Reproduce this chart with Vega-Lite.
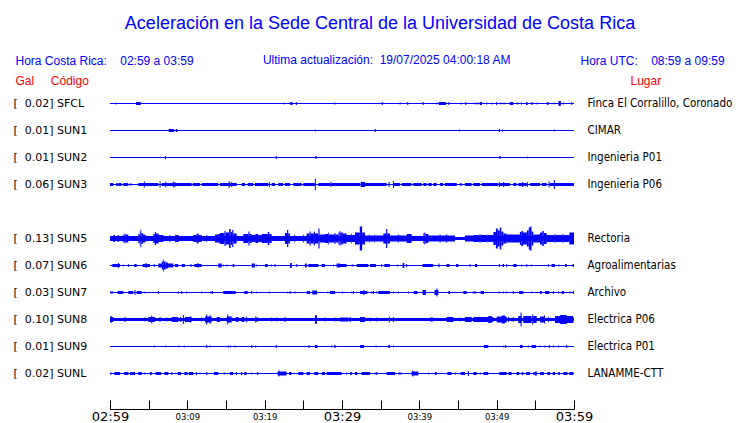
{
"$schema": "https://vega.github.io/schema/vega-lite/v6.json",
"width": 464, "height": 297,
"autosize": {"type": "none"},
"padding": {"left": 110, "top": 90, "right": 166, "bottom": 36},
"background": "white",
"title": {"text": "Aceleración en la Sede Central de la Universidad de Costa Rica", "subtitle": "\u200b\u00a0\u00a0\u00a0\u00a0Ultima actualización:\u00a0\u00a019/07/2025 04:00:18 AM", "anchor": "middle", "frame": "group", "dx": 38, "offset": -12, "font": "Liberation Sans", "fontSize": 18, "fontWeight": "normal", "color": "#0000ff", "subtitleFont": "Liberation Sans", "subtitleFontSize": 12, "subtitleColor": "#0000ff", "subtitlePadding": 22},
"datasets": {
"st": [
{"s":"SFCL","lab":"[\u00a0\u00a00.02]\u00a0SFCL","loc":"Finca El Corralillo, Coronado","n":1},
{"s":"SUN1","lab":"[\u00a0\u00a00.01]\u00a0SUN1","loc":"CIMAR","n":1},
{"s":"SUN2","lab":"[\u00a0\u00a00.01]\u00a0SUN2","loc":"Ingenieria P01","n":1},
{"s":"SUN3","lab":"[\u00a0\u00a00.06]\u00a0SUN3","loc":"Ingenieria P06","n":1},
{"s":"SUN4","lab":" ","loc":" ","n":0},
{"s":"SUN5","lab":"[\u00a0\u00a00.13]\u00a0SUN5","loc":"Rectoria","n":3},
{"s":"SUN6","lab":"[\u00a0\u00a00.07]\u00a0SUN6","loc":"Agroalimentarias","n":1},
{"s":"SUN7","lab":"[\u00a0\u00a00.03]\u00a0SUN7","loc":"Archivo","n":1},
{"s":"SUN8","lab":"[\u00a0\u00a00.10]\u00a0SUN8","loc":"Electrica P06","n":3},
{"s":"SUN9","lab":"[\u00a0\u00a00.01]\u00a0SUN9","loc":"Electrica P01","n":1},
{"s":"SUNL","lab":"[\u00a0\u00a00.02]\u00a0SUNL","loc":"LANAMME-CTT","n":1}
],
"tr": [
{"s":"SFCL","t0":0.67,"t1":0.8,"a":2},{"s":"SFCL","t0":3.36,"t1":3.97,"a":3},{"s":"SFCL","t0":22.44,"t1":22.57,"a":2},{"s":"SFCL","t0":23.3,"t1":23.6,"a":3},{"s":"SFCL","t0":24.04,"t1":24.17,"a":3},{"s":"SFCL","t0":29.04,"t1":29.17,"a":2},{"s":"SFCL","t0":35.14,"t1":35.27,"a":3},{"s":"SFCL","t0":37.44,"t1":37.57,"a":2},{"s":"SFCL","t0":38.44,"t1":38.57,"a":3},{"s":"SFCL","t0":40.44,"t1":40.57,"a":3},{"s":"SFCL","t0":42.14,"t1":42.27,"a":2},{"s":"SFCL","t0":42.5,"t1":43.45,"a":3},{"s":"SFCL","t0":43.74,"t1":43.87,"a":3},{"s":"SFCL","t0":45.34,"t1":45.47,"a":2},{"s":"SFCL","t0":45.94,"t1":46.07,"a":3},{"s":"SFCL","t0":47.14,"t1":47.27,"a":2},{"s":"SFCL","t0":47.44,"t1":47.57,"a":2},{"s":"SFCL","t0":47.8,"t1":48.1,"a":3},{"s":"SFCL","t0":48.64,"t1":48.77,"a":2},{"s":"SFCL","t0":49.29,"t1":49.42,"a":2},{"s":"SFCL","t0":49.94,"t1":50.07,"a":3},{"s":"SFCL","t0":50.44,"t1":50.57,"a":2},{"s":"SFCL","t0":50.89,"t1":51.02,"a":2},{"s":"SFCL","t0":51.7,"t1":52.15,"a":3},{"s":"SFCL","t0":52.64,"t1":52.77,"a":2},{"s":"SFCL","t0":53.14,"t1":53.27,"a":2},{"s":"SFCL","t0":53.8,"t1":54.0,"a":3},{"s":"SFCL","t0":54.5,"t1":54.65,"a":3},{"s":"SFCL","t0":55.14,"t1":55.27,"a":2},{"s":"SFCL","t0":56.5,"t1":56.7,"a":3},{"s":"SFCL","t0":57.34,"t1":57.47,"a":2},{"s":"SFCL","t0":58.0,"t1":58.3,"a":5},{"s":"SFCL","t0":58.54,"t1":58.67,"a":2},{"s":"SFCL","t0":59.64,"t1":59.77,"a":3},
{"s":"SUN1","t0":7.6,"t1":8.3,"a":3},{"s":"SUN1","t0":8.5,"t1":8.7,"a":3},{"s":"SUN1","t0":26.49,"t1":26.62,"a":2},{"s":"SUN1","t0":34.24,"t1":34.37,"a":3},{"s":"SUN1","t0":45.14,"t1":45.27,"a":2},{"s":"SUN1","t0":50.29,"t1":50.42,"a":3},{"s":"SUN1","t0":50.69,"t1":50.82,"a":2},{"s":"SUN1","t0":57.39,"t1":57.52,"a":2},
{"s":"SUN2","t0":7.1,"t1":7.23,"a":3},{"s":"SUN2","t0":21.44,"t1":21.57,"a":3},{"s":"SUN2","t0":26.55,"t1":26.7,"a":3},{"s":"SUN2","t0":50.35,"t1":50.5,"a":3},{"s":"SUN2","t0":53.9,"t1":54.03,"a":2},
{"s":"SUN3","t0":0,"t1":0.43,"a":3},{"s":"SUN3","t0":0.78,"t1":1.0,"a":3},{"s":"SUN3","t0":1.08,"t1":1.5,"a":3},{"s":"SUN3","t0":1.72,"t1":2.37,"a":3},{"s":"SUN3","t0":2.64,"t1":2.77,"a":3},{"s":"SUN3","t0":3.66,"t1":6.25,"a":3},{"s":"SUN3","t0":4.38,"t1":4.51,"a":6},{"s":"SUN3","t0":6.41,"t1":6.54,"a":6},{"s":"SUN3","t0":6.68,"t1":10.56,"a":3},{"s":"SUN3","t0":7.14,"t1":7.27,"a":6},{"s":"SUN3","t0":8.13,"t1":8.26,"a":6},{"s":"SUN3","t0":8.34,"t1":8.47,"a":5},{"s":"SUN3","t0":10.7,"t1":11.64,"a":3},{"s":"SUN3","t0":11.85,"t1":14.0,"a":3},{"s":"SUN3","t0":14.22,"t1":16.38,"a":3},{"s":"SUN3","t0":15.34,"t1":15.47,"a":7},{"s":"SUN3","t0":15.67,"t1":15.8,"a":5},{"s":"SUN3","t0":17.03,"t1":17.46,"a":3},{"s":"SUN3","t0":17.8,"t1":18.53,"a":3},{"s":"SUN3","t0":18.75,"t1":20.47,"a":3},{"s":"SUN3","t0":20.54,"t1":20.67,"a":5},{"s":"SUN3","t0":20.9,"t1":21.34,"a":3},{"s":"SUN3","t0":21.77,"t1":22.4,"a":3},{"s":"SUN3","t0":22.63,"t1":23.28,"a":3},{"s":"SUN3","t0":23.7,"t1":24.78,"a":3},{"s":"SUN3","t0":25.0,"t1":26.5,"a":3},{"s":"SUN3","t0":26.49,"t1":26.62,"a":11},{"s":"SUN3","t0":26.94,"t1":28.5,"a":3},{"s":"SUN3","t0":28.52,"t1":28.65,"a":5},{"s":"SUN3","t0":28.6,"t1":32.33,"a":3},{"s":"SUN3","t0":32.41,"t1":32.97,"a":5},{"s":"SUN3","t0":32.97,"t1":35.77,"a":3},{"s":"SUN3","t0":36.02,"t1":36.15,"a":5},{"s":"SUN3","t0":36.58,"t1":36.71,"a":7},{"s":"SUN3","t0":36.64,"t1":37.5,"a":3},{"s":"SUN3","t0":37.71,"t1":39.0,"a":3},{"s":"SUN3","t0":39.22,"t1":40.3,"a":3},{"s":"SUN3","t0":40.52,"t1":40.95,"a":3},{"s":"SUN3","t0":41.16,"t1":41.6,"a":3},{"s":"SUN3","t0":41.81,"t1":42.24,"a":3},{"s":"SUN3","t0":42.67,"t1":43.1,"a":3},{"s":"SUN3","t0":43.32,"t1":44.83,"a":3},{"s":"SUN3","t0":45.26,"t1":45.47,"a":3},{"s":"SUN3","t0":45.9,"t1":46.77,"a":3},{"s":"SUN3","t0":46.98,"t1":47.84,"a":3},{"s":"SUN3","t0":48.06,"t1":50.21,"a":3},{"s":"SUN3","t0":50.28,"t1":50.41,"a":5},{"s":"SUN3","t0":50.43,"t1":51.72,"a":3},{"s":"SUN3","t0":50.84,"t1":50.97,"a":5},{"s":"SUN3","t0":52.15,"t1":52.58,"a":3},{"s":"SUN3","t0":52.8,"t1":53.88,"a":3},{"s":"SUN3","t0":53.26,"t1":53.39,"a":5},{"s":"SUN3","t0":53.9,"t1":54.03,"a":5},{"s":"SUN3","t0":54.31,"t1":55.6,"a":3},{"s":"SUN3","t0":55.82,"t1":56.46,"a":3},{"s":"SUN3","t0":56.71,"t1":56.84,"a":6},{"s":"SUN3","t0":56.9,"t1":60,"a":3},{"s":"SUN3","t0":57.4,"t1":57.53,"a":9},
{"s":"SUN5","t0":0,"t1":44.6,"a":5},{"s":"SUN5","t0":45.9,"t1":60,"a":5},{"s":"SUN5","t0":0.43,"t1":0.65,"a":7},{"s":"SUN5","t0":1.0,"t1":1.15,"a":7},{"s":"SUN5","t0":1.55,"t1":1.65,"a":6},{"s":"SUN5","t0":1.72,"t1":1.9,"a":8},{"s":"SUN5","t0":1.9,"t1":2.0,"a":10},{"s":"SUN5","t0":2.0,"t1":2.37,"a":8},{"s":"SUN5","t0":3.66,"t1":3.85,"a":9},{"s":"SUN5","t0":3.85,"t1":3.95,"a":14},{"s":"SUN5","t0":3.95,"t1":4.05,"a":18},{"s":"SUN5","t0":4.05,"t1":4.25,"a":11},{"s":"SUN5","t0":4.25,"t1":4.53,"a":8},{"s":"SUN5","t0":4.53,"t1":4.74,"a":6},{"s":"SUN5","t0":5.6,"t1":5.8,"a":9},{"s":"SUN5","t0":5.8,"t1":5.95,"a":13},{"s":"SUN5","t0":5.95,"t1":6.3,"a":10},{"s":"SUN5","t0":6.3,"t1":6.9,"a":7},{"s":"SUN5","t0":7.7,"t1":7.8,"a":7},{"s":"SUN5","t0":8.4,"t1":8.5,"a":8},{"s":"SUN5","t0":8.5,"t1":8.9,"a":7},{"s":"SUN5","t0":10.78,"t1":11.2,"a":7},{"s":"SUN5","t0":11.2,"t1":11.45,"a":10},{"s":"SUN5","t0":11.45,"t1":11.85,"a":7},{"s":"SUN5","t0":12.45,"t1":12.55,"a":7},{"s":"SUN5","t0":13.58,"t1":14.0,"a":8},{"s":"SUN5","t0":14.0,"t1":14.22,"a":9},{"s":"SUN5","t0":14.22,"t1":14.8,"a":11},{"s":"SUN5","t0":14.8,"t1":14.95,"a":15},{"s":"SUN5","t0":14.95,"t1":15.4,"a":12},{"s":"SUN5","t0":15.4,"t1":15.6,"a":19},{"s":"SUN5","t0":15.6,"t1":15.8,"a":13},{"s":"SUN5","t0":15.8,"t1":15.95,"a":17},{"s":"SUN5","t0":15.95,"t1":16.38,"a":10},{"s":"SUN5","t0":17.24,"t1":17.9,"a":9},{"s":"SUN5","t0":17.9,"t1":18.05,"a":14},{"s":"SUN5","t0":18.05,"t1":18.32,"a":9},{"s":"SUN5","t0":18.32,"t1":18.8,"a":7},{"s":"SUN5","t0":18.8,"t1":19.2,"a":9},{"s":"SUN5","t0":19.2,"t1":19.6,"a":7},{"s":"SUN5","t0":19.61,"t1":20.4,"a":9},{"s":"SUN5","t0":20.4,"t1":20.6,"a":13},{"s":"SUN5","t0":20.6,"t1":20.9,"a":9},{"s":"SUN5","t0":22.63,"t1":22.9,"a":11},{"s":"SUN5","t0":22.9,"t1":23.05,"a":17},{"s":"SUN5","t0":23.05,"t1":23.28,"a":10},{"s":"SUN5","t0":23.8,"t1":23.9,"a":7},{"s":"SUN5","t0":24.95,"t1":25.05,"a":8},{"s":"SUN5","t0":25.43,"t1":25.8,"a":10},{"s":"SUN5","t0":25.8,"t1":25.95,"a":14},{"s":"SUN5","t0":25.95,"t1":26.35,"a":10},{"s":"SUN5","t0":26.35,"t1":26.5,"a":14},{"s":"SUN5","t0":26.5,"t1":26.95,"a":10},{"s":"SUN5","t0":26.95,"t1":27.1,"a":20},{"s":"SUN5","t0":27.1,"t1":27.8,"a":8},{"s":"SUN5","t0":27.8,"t1":28.2,"a":9},{"s":"SUN5","t0":28.2,"t1":28.3,"a":12},{"s":"SUN5","t0":28.3,"t1":29.0,"a":8},{"s":"SUN5","t0":29.0,"t1":29.2,"a":10},{"s":"SUN5","t0":29.2,"t1":29.5,"a":8},{"s":"SUN5","t0":29.53,"t1":29.7,"a":12},{"s":"SUN5","t0":29.7,"t1":29.8,"a":15},{"s":"SUN5","t0":29.8,"t1":30.1,"a":12},{"s":"SUN5","t0":30.1,"t1":30.6,"a":10},{"s":"SUN5","t0":30.6,"t1":31.2,"a":7},{"s":"SUN5","t0":31.2,"t1":31.3,"a":10},{"s":"SUN5","t0":31.3,"t1":31.68,"a":7},{"s":"SUN5","t0":31.68,"t1":32.3,"a":12},{"s":"SUN5","t0":32.3,"t1":32.6,"a":24},{"s":"SUN5","t0":32.6,"t1":32.97,"a":12},{"s":"SUN5","t0":32.97,"t1":33.5,"a":6},{"s":"SUN5","t0":33.5,"t1":33.6,"a":8},{"s":"SUN5","t0":33.6,"t1":34.2,"a":6},{"s":"SUN5","t0":34.2,"t1":34.3,"a":8},{"s":"SUN5","t0":34.3,"t1":35.34,"a":6},{"s":"SUN5","t0":35.34,"t1":35.7,"a":10},{"s":"SUN5","t0":35.7,"t1":35.85,"a":19},{"s":"SUN5","t0":35.85,"t1":36.2,"a":10},{"s":"SUN5","t0":36.2,"t1":37.2,"a":6},{"s":"SUN5","t0":37.2,"t1":37.35,"a":8},{"s":"SUN5","t0":37.35,"t1":38.36,"a":6},{"s":"SUN5","t0":38.36,"t1":39.0,"a":9},{"s":"SUN5","t0":40.52,"t1":40.65,"a":10},{"s":"SUN5","t0":40.65,"t1":40.8,"a":12},{"s":"SUN5","t0":40.8,"t1":41.16,"a":9},{"s":"SUN5","t0":41.16,"t1":42.6,"a":6},{"s":"SUN5","t0":42.6,"t1":42.75,"a":8},{"s":"SUN5","t0":42.75,"t1":43.45,"a":6},{"s":"SUN5","t0":43.45,"t1":43.6,"a":8},{"s":"SUN5","t0":43.6,"t1":44.6,"a":6},{"s":"SUN5","t0":45.9,"t1":46.98,"a":6},{"s":"SUN5","t0":46.98,"t1":47.8,"a":7},{"s":"SUN5","t0":47.8,"t1":47.9,"a":9},{"s":"SUN5","t0":47.9,"t1":48.7,"a":7},{"s":"SUN5","t0":48.7,"t1":48.8,"a":8},{"s":"SUN5","t0":48.8,"t1":49.57,"a":7},{"s":"SUN5","t0":49.57,"t1":49.9,"a":13},{"s":"SUN5","t0":49.9,"t1":50.15,"a":20},{"s":"SUN5","t0":50.15,"t1":50.4,"a":16},{"s":"SUN5","t0":50.4,"t1":50.6,"a":22},{"s":"SUN5","t0":50.6,"t1":50.86,"a":14},{"s":"SUN5","t0":50.86,"t1":51.29,"a":10},{"s":"SUN5","t0":51.29,"t1":53.0,"a":8},{"s":"SUN5","t0":53.0,"t1":53.2,"a":13},{"s":"SUN5","t0":53.2,"t1":53.4,"a":15},{"s":"SUN5","t0":53.4,"t1":53.9,"a":12},{"s":"SUN5","t0":53.9,"t1":54.15,"a":16},{"s":"SUN5","t0":54.15,"t1":54.3,"a":22},{"s":"SUN5","t0":54.3,"t1":54.5,"a":24},{"s":"SUN5","t0":54.5,"t1":54.74,"a":14},{"s":"SUN5","t0":54.74,"t1":55.6,"a":8},{"s":"SUN5","t0":55.6,"t1":55.9,"a":12},{"s":"SUN5","t0":55.9,"t1":56.1,"a":15},{"s":"SUN5","t0":56.1,"t1":56.46,"a":11},{"s":"SUN5","t0":56.46,"t1":57.5,"a":7},{"s":"SUN5","t0":57.5,"t1":57.6,"a":9},{"s":"SUN5","t0":57.6,"t1":58.5,"a":7},{"s":"SUN5","t0":58.5,"t1":58.6,"a":9},{"s":"SUN5","t0":58.6,"t1":59.4,"a":7},{"s":"SUN5","t0":59.4,"t1":60,"a":12},
{"s":"SUN6","t0":0.3,"t1":1.3,"a":3},{"s":"SUN6","t0":1.02,"t1":1.15,"a":5},{"s":"SUN6","t0":1.66,"t1":1.79,"a":2},{"s":"SUN6","t0":2.31,"t1":2.44,"a":3},{"s":"SUN6","t0":3.15,"t1":3.45,"a":3},{"s":"SUN6","t0":4.22,"t1":5.17,"a":3},{"s":"SUN6","t0":4.6,"t1":4.73,"a":5},{"s":"SUN6","t0":5.67,"t1":5.8,"a":3},{"s":"SUN6","t0":6.25,"t1":6.7,"a":4},{"s":"SUN6","t0":6.7,"t1":6.85,"a":8},{"s":"SUN6","t0":6.85,"t1":6.95,"a":12},{"s":"SUN6","t0":6.95,"t1":7.2,"a":8},{"s":"SUN6","t0":7.2,"t1":7.5,"a":6},{"s":"SUN6","t0":7.5,"t1":8.2,"a":4},{"s":"SUN6","t0":8.4,"t1":8.84,"a":3},{"s":"SUN6","t0":9.27,"t1":9.7,"a":3},{"s":"SUN6","t0":10.41,"t1":10.54,"a":3},{"s":"SUN6","t0":10.9,"t1":11.85,"a":3},{"s":"SUN6","t0":11.3,"t1":11.43,"a":5},{"s":"SUN6","t0":14.0,"t1":14.44,"a":4},{"s":"SUN6","t0":14.59,"t1":14.72,"a":2},{"s":"SUN6","t0":15.04,"t1":15.17,"a":2},{"s":"SUN6","t0":15.86,"t1":16.08,"a":3},{"s":"SUN6","t0":18.32,"t1":18.75,"a":4},{"s":"SUN6","t0":18.91,"t1":19.04,"a":2},{"s":"SUN6","t0":20.04,"t1":20.39,"a":3},{"s":"SUN6","t0":20.8,"t1":20.93,"a":2},{"s":"SUN6","t0":21.28,"t1":21.41,"a":3},{"s":"SUN6","t0":23.28,"t1":23.5,"a":5},{"s":"SUN6","t0":24.08,"t1":24.21,"a":3},{"s":"SUN6","t0":25.2,"t1":25.43,"a":4},{"s":"SUN6","t0":25.65,"t1":26.94,"a":3},{"s":"SUN6","t0":27.37,"t1":27.8,"a":3},{"s":"SUN6","t0":28.84,"t1":28.97,"a":2},{"s":"SUN6","t0":29.3,"t1":29.74,"a":4},{"s":"SUN6","t0":29.74,"t1":30.6,"a":3},{"s":"SUN6","t0":31.25,"t1":31.46,"a":2},{"s":"SUN6","t0":31.9,"t1":33.4,"a":3},{"s":"SUN6","t0":33.62,"t1":34.4,"a":3},{"s":"SUN6","t0":35.07,"t1":35.2,"a":3},{"s":"SUN6","t0":35.47,"t1":36.2,"a":3},{"s":"SUN6","t0":37.09,"t1":37.22,"a":2},{"s":"SUN6","t0":37.84,"t1":38.06,"a":5},{"s":"SUN6","t0":38.3,"t1":38.43,"a":3},{"s":"SUN6","t0":40.43,"t1":41.8,"a":3},{"s":"SUN6","t0":42.48,"t1":42.61,"a":4},{"s":"SUN6","t0":43.53,"t1":43.88,"a":3},{"s":"SUN6","t0":44.74,"t1":45.04,"a":3},{"s":"SUN6","t0":46.49,"t1":46.62,"a":3},{"s":"SUN6","t0":47.2,"t1":47.5,"a":3},{"s":"SUN6","t0":50.28,"t1":50.41,"a":3},{"s":"SUN6","t0":50.77,"t1":50.95,"a":3},{"s":"SUN6","t0":51.23,"t1":51.36,"a":3},{"s":"SUN6","t0":52.15,"t1":52.58,"a":3},{"s":"SUN6","t0":53.17,"t1":53.3,"a":2},{"s":"SUN6","t0":53.82,"t1":53.95,"a":3},{"s":"SUN6","t0":54.46,"t1":54.59,"a":2},{"s":"SUN6","t0":56.62,"t1":56.75,"a":3},{"s":"SUN6","t0":57.11,"t1":57.54,"a":3},{"s":"SUN6","t0":57.97,"t1":58.1,"a":2},{"s":"SUN6","t0":58.84,"t1":59.05,"a":3},{"s":"SUN6","t0":59.83,"t1":60,"a":3},
{"s":"SUN7","t0":0,"t1":0.43,"a":2},{"s":"SUN7","t0":0.99,"t1":1.72,"a":3},{"s":"SUN7","t0":2.37,"t1":3.0,"a":3},{"s":"SUN7","t0":3.17,"t1":3.3,"a":5},{"s":"SUN7","t0":3.45,"t1":4.1,"a":3},{"s":"SUN7","t0":4.44,"t1":4.57,"a":2},{"s":"SUN7","t0":6.19,"t1":6.32,"a":3},{"s":"SUN7","t0":8.78,"t1":8.91,"a":2},{"s":"SUN7","t0":9.21,"t1":9.34,"a":3},{"s":"SUN7","t0":9.84,"t1":9.97,"a":2},{"s":"SUN7","t0":11.79,"t1":11.92,"a":2},{"s":"SUN7","t0":13.0,"t1":13.13,"a":2},{"s":"SUN7","t0":13.17,"t1":13.3,"a":3},{"s":"SUN7","t0":14.65,"t1":16.25,"a":3},{"s":"SUN7","t0":17.37,"t1":17.8,"a":3},{"s":"SUN7","t0":18.26,"t1":18.39,"a":3},{"s":"SUN7","t0":18.91,"t1":19.04,"a":2},{"s":"SUN7","t0":20.54,"t1":20.67,"a":2},{"s":"SUN7","t0":22.91,"t1":23.04,"a":2},{"s":"SUN7","t0":23.22,"t1":23.35,"a":3},{"s":"SUN7","t0":23.86,"t1":23.99,"a":2},{"s":"SUN7","t0":25.43,"t1":25.86,"a":3},{"s":"SUN7","t0":26.16,"t1":26.77,"a":4},{"s":"SUN7","t0":28.09,"t1":28.22,"a":2},{"s":"SUN7","t0":28.45,"t1":29.1,"a":3},{"s":"SUN7","t0":30.02,"t1":30.15,"a":2},{"s":"SUN7","t0":31.19,"t1":31.32,"a":2},{"s":"SUN7","t0":31.4,"t1":31.53,"a":3},{"s":"SUN7","t0":32.33,"t1":33.27,"a":3},{"s":"SUN7","t0":32.78,"t1":32.91,"a":5},{"s":"SUN7","t0":33.78,"t1":33.91,"a":2},{"s":"SUN7","t0":34.0,"t1":34.13,"a":3},{"s":"SUN7","t0":34.42,"t1":34.55,"a":2},{"s":"SUN7","t0":34.7,"t1":36.2,"a":3},{"s":"SUN7","t0":36.58,"t1":36.71,"a":2},{"s":"SUN7","t0":37.22,"t1":37.35,"a":2},{"s":"SUN7","t0":38.52,"t1":38.65,"a":2},{"s":"SUN7","t0":39.3,"t1":39.74,"a":3},{"s":"SUN7","t0":40.43,"t1":40.86,"a":5},{"s":"SUN7","t0":41.96,"t1":42.46,"a":5},{"s":"SUN7","t0":42.2,"t1":42.33,"a":8},{"s":"SUN7","t0":43.75,"t1":43.97,"a":3},{"s":"SUN7","t0":45.69,"t1":46.12,"a":3},{"s":"SUN7","t0":46.9,"t1":47.03,"a":2},{"s":"SUN7","t0":47.14,"t1":47.27,"a":3},{"s":"SUN7","t0":47.93,"t1":48.36,"a":3},{"s":"SUN7","t0":50.28,"t1":50.41,"a":2},{"s":"SUN7","t0":50.8,"t1":50.93,"a":2},{"s":"SUN7","t0":51.23,"t1":51.36,"a":2},{"s":"SUN7","t0":52.09,"t1":52.22,"a":3},{"s":"SUN7","t0":52.9,"t1":53.45,"a":3},{"s":"SUN7","t0":54.47,"t1":54.6,"a":2},{"s":"SUN7","t0":55.6,"t1":55.82,"a":3},{"s":"SUN7","t0":56.25,"t1":56.8,"a":3},{"s":"SUN7","t0":57.27,"t1":57.4,"a":3},{"s":"SUN7","t0":57.91,"t1":58.04,"a":2},{"s":"SUN7","t0":58.4,"t1":58.7,"a":3},{"s":"SUN7","t0":59.43,"t1":59.56,"a":2},{"s":"SUN7","t0":59.85,"t1":59.98,"a":3},
{"s":"SUN8","t0":0,"t1":0.43,"a":5},{"s":"SUN8","t0":0.1,"t1":0.23,"a":7},{"s":"SUN8","t0":1.88,"t1":2.01,"a":5},{"s":"SUN8","t0":4.44,"t1":4.57,"a":4},{"s":"SUN8","t0":4.96,"t1":5.82,"a":5},{"s":"SUN8","t0":5.34,"t1":5.47,"a":8},{"s":"SUN8","t0":6.41,"t1":6.54,"a":5},{"s":"SUN8","t0":7.3,"t1":7.43,"a":4},{"s":"SUN8","t0":7.97,"t1":8.84,"a":5},{"s":"SUN8","t0":9.05,"t1":9.18,"a":5},{"s":"SUN8","t0":9.42,"t1":9.55,"a":9},{"s":"SUN8","t0":9.7,"t1":10.56,"a":5},{"s":"SUN8","t0":10.34,"t1":10.47,"a":6},{"s":"SUN8","t0":11.79,"t1":11.92,"a":4},{"s":"SUN8","t0":12.28,"t1":13.15,"a":6},{"s":"SUN8","t0":12.44,"t1":12.57,"a":10},{"s":"SUN8","t0":12.9,"t1":13.0,"a":9},{"s":"SUN8","t0":13.8,"t1":14.22,"a":5},{"s":"SUN8","t0":15.1,"t1":15.73,"a":6},{"s":"SUN8","t0":15.16,"t1":15.29,"a":10},{"s":"SUN8","t0":16.3,"t1":16.6,"a":5},{"s":"SUN8","t0":17.03,"t1":17.37,"a":5},{"s":"SUN8","t0":17.61,"t1":17.74,"a":6},{"s":"SUN8","t0":18.78,"t1":18.91,"a":6},{"s":"SUN8","t0":18.96,"t1":19.09,"a":5},{"s":"SUN8","t0":20.84,"t1":20.97,"a":4},{"s":"SUN8","t0":21.49,"t1":21.62,"a":4},{"s":"SUN8","t0":22.57,"t1":22.7,"a":5},{"s":"SUN8","t0":26.51,"t1":26.77,"a":8},{"s":"SUN8","t0":26.55,"t1":26.68,"a":9},{"s":"SUN8","t0":27.74,"t1":27.87,"a":4},{"s":"SUN8","t0":29.04,"t1":29.17,"a":4},{"s":"SUN8","t0":29.74,"t1":30.82,"a":4},{"s":"SUN8","t0":31.0,"t1":31.13,"a":5},{"s":"SUN8","t0":32.33,"t1":32.97,"a":5},{"s":"SUN8","t0":33.56,"t1":33.69,"a":4},{"s":"SUN8","t0":34.42,"t1":34.55,"a":4},{"s":"SUN8","t0":36.06,"t1":36.19,"a":6},{"s":"SUN8","t0":36.58,"t1":36.71,"a":5},{"s":"SUN8","t0":41.38,"t1":41.8,"a":4},{"s":"SUN8","t0":43.53,"t1":44.4,"a":5},{"s":"SUN8","t0":45.2,"t1":45.33,"a":4},{"s":"SUN8","t0":45.9,"t1":46.77,"a":5},{"s":"SUN8","t0":46.98,"t1":49.57,"a":5},{"s":"SUN8","t0":48.92,"t1":49.35,"a":7},{"s":"SUN8","t0":50.0,"t1":51.29,"a":6},{"s":"SUN8","t0":50.65,"t1":51.08,"a":8},{"s":"SUN8","t0":51.46,"t1":51.59,"a":5},{"s":"SUN8","t0":52.09,"t1":52.22,"a":5},{"s":"SUN8","t0":52.8,"t1":53.23,"a":7},{"s":"SUN8","t0":53.09,"t1":53.22,"a":14},{"s":"SUN8","t0":53.45,"t1":54.52,"a":7},{"s":"SUN8","t0":54.6,"t1":54.73,"a":10},{"s":"SUN8","t0":54.73,"t1":55.17,"a":7},{"s":"SUN8","t0":55.6,"t1":56.25,"a":6},{"s":"SUN8","t0":56.12,"t1":56.25,"a":8},{"s":"SUN8","t0":56.62,"t1":56.75,"a":5},{"s":"SUN8","t0":57.54,"t1":59.91,"a":7},{"s":"SUN8","t0":58.2,"t1":59.05,"a":9},
{"s":"SUN9","t0":5.67,"t1":5.8,"a":2},{"s":"SUN9","t0":7.14,"t1":7.27,"a":2},{"s":"SUN9","t0":8.86,"t1":8.99,"a":2},{"s":"SUN9","t0":9.55,"t1":9.68,"a":2},{"s":"SUN9","t0":12.44,"t1":12.57,"a":3},{"s":"SUN9","t0":12.87,"t1":13.0,"a":2},{"s":"SUN9","t0":15.22,"t1":15.39,"a":2},{"s":"SUN9","t0":15.5,"t1":15.63,"a":2},{"s":"SUN9","t0":16.1,"t1":16.23,"a":2},{"s":"SUN9","t0":18.26,"t1":18.39,"a":3},{"s":"SUN9","t0":18.78,"t1":18.91,"a":2},{"s":"SUN9","t0":21.44,"t1":21.57,"a":3},{"s":"SUN9","t0":25.67,"t1":25.8,"a":3},{"s":"SUN9","t0":26.5,"t1":26.85,"a":3},{"s":"SUN9","t0":28.6,"t1":28.73,"a":2},{"s":"SUN9","t0":29.0,"t1":29.18,"a":3},{"s":"SUN9","t0":32.33,"t1":32.84,"a":3},{"s":"SUN9","t0":34.34,"t1":34.47,"a":2},{"s":"SUN9","t0":36.0,"t1":36.2,"a":3},{"s":"SUN9","t0":36.58,"t1":36.71,"a":2},{"s":"SUN9","t0":48.36,"t1":48.92,"a":3},{"s":"SUN9","t0":50.8,"t1":50.93,"a":2},{"s":"SUN9","t0":51.1,"t1":51.23,"a":3},{"s":"SUN9","t0":53.0,"t1":53.36,"a":3},{"s":"SUN9","t0":54.03,"t1":54.16,"a":2},{"s":"SUN9","t0":54.52,"t1":55.1,"a":3},{"s":"SUN9","t0":55.54,"t1":55.67,"a":2},{"s":"SUN9","t0":56.19,"t1":56.32,"a":2},{"s":"SUN9","t0":56.74,"t1":56.87,"a":3},{"s":"SUN9","t0":57.27,"t1":57.4,"a":2},{"s":"SUN9","t0":57.91,"t1":58.04,"a":2},{"s":"SUN9","t0":58.99,"t1":59.12,"a":3},
{"s":"SUNL","t0":0,"t1":0.2,"a":2},{"s":"SUNL","t0":0.56,"t1":1.3,"a":3},{"s":"SUNL","t0":1.85,"t1":2.37,"a":3},{"s":"SUNL","t0":2.59,"t1":3.23,"a":3},{"s":"SUNL","t0":3.66,"t1":4.1,"a":3},{"s":"SUNL","t0":4.44,"t1":4.57,"a":2},{"s":"SUNL","t0":5.17,"t1":5.39,"a":3},{"s":"SUNL","t0":5.9,"t1":6.6,"a":3},{"s":"SUNL","t0":7.03,"t1":7.54,"a":3},{"s":"SUNL","t0":7.92,"t1":8.05,"a":3},{"s":"SUNL","t0":8.75,"t1":9.18,"a":3},{"s":"SUNL","t0":9.61,"t1":10.04,"a":3},{"s":"SUNL","t0":10.2,"t1":10.78,"a":3},{"s":"SUNL","t0":11.14,"t1":11.27,"a":3},{"s":"SUNL","t0":11.57,"t1":11.7,"a":2},{"s":"SUNL","t0":12.44,"t1":12.57,"a":3},{"s":"SUNL","t0":13.45,"t1":14.0,"a":3},{"s":"SUNL","t0":14.72,"t1":14.85,"a":2},{"s":"SUNL","t0":15.52,"t1":15.95,"a":3},{"s":"SUNL","t0":16.3,"t1":16.43,"a":3},{"s":"SUNL","t0":16.94,"t1":17.1,"a":3},{"s":"SUNL","t0":17.37,"t1":17.67,"a":3},{"s":"SUNL","t0":18.26,"t1":18.39,"a":2},{"s":"SUNL","t0":19.04,"t1":19.17,"a":3},{"s":"SUNL","t0":21.68,"t1":22.84,"a":4},{"s":"SUNL","t0":21.79,"t1":21.92,"a":6},{"s":"SUNL","t0":23.15,"t1":23.49,"a":3},{"s":"SUNL","t0":24.35,"t1":25.0,"a":3},{"s":"SUNL","t0":25.43,"t1":25.86,"a":3},{"s":"SUNL","t0":26.42,"t1":26.94,"a":3},{"s":"SUNL","t0":27.37,"t1":27.8,"a":3},{"s":"SUNL","t0":28.0,"t1":29.74,"a":3},{"s":"SUNL","t0":29.74,"t1":29.95,"a":3},{"s":"SUNL","t0":30.54,"t1":30.67,"a":2},{"s":"SUNL","t0":31.03,"t1":31.25,"a":3},{"s":"SUNL","t0":31.68,"t1":31.98,"a":3},{"s":"SUNL","t0":32.54,"t1":33.62,"a":3},{"s":"SUNL","t0":34.22,"t1":34.35,"a":2},{"s":"SUNL","t0":34.42,"t1":34.55,"a":3},{"s":"SUNL","t0":35.77,"t1":36.85,"a":3},{"s":"SUNL","t0":37.28,"t1":37.72,"a":2},{"s":"SUNL","t0":39.0,"t1":39.87,"a":4},{"s":"SUNL","t0":39.08,"t1":39.21,"a":6},{"s":"SUNL","t0":41.14,"t1":41.27,"a":2},{"s":"SUNL","t0":42.0,"t1":42.24,"a":3},{"s":"SUNL","t0":43.62,"t1":44.18,"a":3},{"s":"SUNL","t0":44.6,"t1":44.73,"a":2},{"s":"SUNL","t0":45.34,"t1":45.9,"a":3},{"s":"SUNL","t0":46.28,"t1":46.41,"a":5},{"s":"SUNL","t0":46.98,"t1":47.41,"a":3},{"s":"SUNL","t0":47.82,"t1":47.95,"a":2},{"s":"SUNL","t0":48.28,"t1":48.92,"a":3},{"s":"SUNL","t0":50.34,"t1":51.29,"a":3},{"s":"SUNL","t0":51.5,"t1":51.94,"a":3},{"s":"SUNL","t0":52.58,"t1":52.93,"a":3},{"s":"SUNL","t0":53.23,"t1":53.45,"a":3},{"s":"SUNL","t0":53.8,"t1":54.31,"a":3},{"s":"SUNL","t0":54.74,"t1":55.17,"a":3},{"s":"SUNL","t0":55.02,"t1":55.15,"a":5},{"s":"SUNL","t0":55.6,"t1":56.12,"a":3},{"s":"SUNL","t0":56.55,"t1":56.9,"a":3},{"s":"SUNL","t0":57.24,"t1":57.54,"a":3},{"s":"SUNL","t0":57.97,"t1":58.19,"a":3},{"s":"SUNL","t0":58.62,"t1":59.14,"a":3},{"s":"SUNL","t0":59.4,"t1":59.91,"a":3}
]
},
"layer": [
{
"data": {"name": "st"},
"mark": {"type": "bar", "color": "#0000ff"},
"encoding": {
"y": {"field": "lab", "type": "nominal", "sort": null, "scale": {"paddingInner": 0, "paddingOuter": 0},
"axis": {"orient": "left", "domain": false, "ticks": false, "tickSize": 0, "grid": false, "labelPadding": 97, "labelAlign": "left", "labelFont": "DejaVu Sans", "labelFontSize": 11, "labelColor": "black",
"title": "Gal\u00a0\u00a0\u00a0\u00a0\u00a0Código", "titleAngle": 0, "titleX": -95, "titleY": -6, "titleAlign": "left", "titleBaseline": "alphabetic", "titleFont": "Liberation Sans", "titleFontSize": 12, "titleFontWeight": "normal", "titleColor": "#ff0000"}},
"x": {"datum": 0, "type": "quantitative", "scale": {"domain": [0, 60], "nice": false, "zero": false}, "axis": null},
"x2": {"datum": 60},
"size": {"field": "n", "type": "quantitative", "scale": {"domain": [0, 30], "range": [0, 30]}, "legend": null}
}
},
{
"data": {"name": "tr"},
"mark": {"type": "bar", "color": "#0000ff"},
"encoding": {
"y": {"field": "s", "type": "nominal", "scale": {"domain": ["SFCL","SUN1","SUN2","SUN3","SUN4","SUN5","SUN6","SUN7","SUN8","SUN9","SUNL"], "paddingInner": 0, "paddingOuter": 0}, "axis": null},
"x": {"field": "t0", "type": "quantitative", "scale": {"domain": [0, 60], "nice": false, "zero": false},
"axis": {"orient": "bottom", "values": [0,5,10,15,20,25,30,35,40,45,50,55,60], "labelExpr": "datum.value % 10 == 0 ? timeFormat(datetime(2025,6,19,2,59+datum.value,0), '%H:%M') : ''", "labelFlush": false, "labelOverlap": false, "grid": false, "domainColor": "black", "tickColor": "black", "tickSize": -9, "labelPadding": 16, "labelFont": "DejaVu Sans", "labelFontSize": {"condition": {"test": "datum.value % 30 == 0", "value": 13}, "value": 8.5}, "labelColor": "black", "labelBaseline": "middle", "offset": 22,
"title": "Hora Costa Rica:\u00a0\u00a0\u00a0\u00a002:59 a 03:59", "titleX": -95, "titleY": -345, "titleAlign": "left", "titleAnchor": "start", "titleBaseline": "alphabetic", "titleFont": "Liberation Sans", "titleFontSize": 12, "titleFontWeight": "normal", "titleColor": "#0000ff"}},
"x2": {"field": "t1"},
"size": {"field": "a", "type": "quantitative", "scale": {"domain": [0, 30], "range": [0, 30]}, "legend": null}
}
},
{
"data": {"name": "st"},
"mark": {"type": "bar", "opacity": 0},
"encoding": {
"y": {"field": "loc", "type": "nominal", "sort": null, "scale": {"paddingInner": 0, "paddingOuter": 0},
"axis": {"orient": "right", "domain": false, "ticks": false, "tickSize": 0, "grid": false, "labelPadding": 13, "labelAlign": "left", "labelFont": "DejaVu Sans Condensed, DejaVu Sans", "labelFontSize": 11.5, "labelColor": "black",
"title": "Hora UTC:\u00a0\u00a0\u00a0\u00a008:59 a 09:59", "titleAngle": 0, "titleX": 6, "titleY": -26, "titleAlign": "left", "titleBaseline": "alphabetic", "titleFont": "Liberation Sans", "titleFontSize": 12, "titleFontWeight": "normal", "titleColor": "#0000ff"}},
"x": {"datum": 0, "type": "quantitative", "scale": {"domain": [0, 60], "nice": false, "zero": false},
"axis": {"orient": "top", "domain": false, "ticks": false, "labels": false, "grid": false,
"title": "Lugar", "titleX": 520, "titleY": -6, "titleAlign": "left", "titleAnchor": "start", "titleBaseline": "alphabetic", "titleFont": "Liberation Sans", "titleFontSize": 12, "titleFontWeight": "normal", "titleColor": "#ff0000"}},
"x2": {"datum": 60}
}
}
],
"resolve": {"scale": {"y": "independent"}, "axis": {"y": "independent", "x": "independent"}},
"config": {"view": {"stroke": null}}
}
